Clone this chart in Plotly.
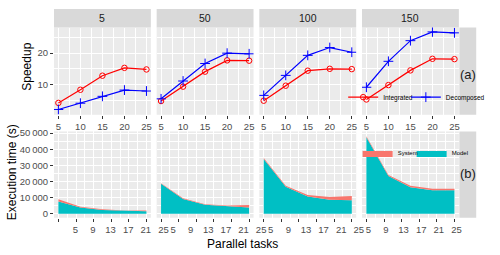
import plotly.graph_objects as go

# ---------------- data ----------------
panels = ["5", "50", "100", "150"]
tasks = [5, 10, 15, 20, 25]

integrated_5 = [4.1, 8.3, 12.8, 15.3, 14.8]
integrated_50 = [4.7, 9.3, 14.1, 17.7, 17.6]
integrated_100 = [4.8, 9.6, 14.4, 15.0, 14.9]
integrated_150 = [5.2, 9.8, 14.5, 18.2, 18.1]

decomposed_5 = [2.0, 4.0, 6.2, 8.2, 7.9]
decomposed_50 = [5.4, 11.1, 16.7, 20.0, 19.8]
decomposed_100 = [6.5, 12.9, 19.3, 21.8, 20.3]
decomposed_150 = [9.1, 17.4, 24.0, 26.8, 26.5]

model_5 = [7600, 4000, 2400, 1800, 1600]
model_50 = [18600, 9200, 5600, 4600, 4000]
model_100 = [34000, 16800, 10800, 8800, 8400]
model_150 = [47400, 23400, 16400, 14600, 14600]

system_5 = [1400, 400, 400, 200, 400]
system_50 = [400, 400, 400, 600, 1400]
system_100 = [600, 600, 800, 1600, 2600]
system_150 = [600, 600, 1000, 1000, 1000]

top_xticks = [5, 10, 15, 20, 25]
bottom_xticks = [5, 9, 13, 17, 21, 25]
speed_yticks = [10, 20]
time_yticks = [0, 10000, 20000, 30000, 40000, 50000]
time_yticklabels = ["0", "10\u2009000", "20\u2009000", "30\u2009000", "40\u2009000", "50\u2009000"]

integrated = [integrated_5, integrated_50, integrated_100, integrated_150]
decomposed = [decomposed_5, decomposed_50, decomposed_100, decomposed_150]
model = [model_5, model_50, model_100, model_150]
system = [system_5, system_50, system_100, system_150]

# ---------------- layout geometry ----------------
W, H = 500, 255
FONT = "Liberation Sans, Arial, sans-serif"
lefts = [56, 162.5, 269, 375.5]
pw = 100.5
top_dom = [1 - 113 / H, 1 - 24 / H]
bot_dom = [1 - 218 / H, 1 - 130 / H]
label_shift = [17, 12, 7, 2]

RED = "#FF0000"
BLUE = "#0000FF"
TEAL = "#00BFC4"
SALMON = "#F8766D"

fig = go.Figure()

for i in range(4):
    xt = "x" if i == 0 else f"x{i+1}"
    yt = "y" if i == 0 else f"y{i+1}"
    xb = f"x{i+5}"
    yb = f"y{i+5}"
    fig.add_trace(go.Scatter(
        x=tasks, y=integrated[i], xaxis=xt, yaxis=yt, mode="lines+markers",
        name="Integrated", legend="legend", showlegend=(i == 0),
        line=dict(color=RED, width=1.2),
        marker=dict(symbol="circle-open", size=5.5, color=RED, line=dict(width=1, color=RED)),
    ))
    fig.add_trace(go.Scatter(
        x=tasks, y=decomposed[i], xaxis=xt, yaxis=yt, mode="lines+markers",
        name="Decomposed", legend="legend3", showlegend=(i == 0),
        line=dict(color=BLUE, width=1.2),
        marker=dict(symbol="cross-thin", size=7, color=BLUE, line=dict(width=1, color=BLUE)),
    ))
    fig.add_trace(go.Scatter(
        x=tasks, y=model[i], xaxis=xb, yaxis=yb, mode="lines",
        name="Model", legend="legend4", showlegend=(i == 0),
        stackgroup=f"s{i}", line=dict(width=0, color=TEAL), fillcolor=TEAL,
    ))
    fig.add_trace(go.Scatter(
        x=tasks, y=system[i], xaxis=xb, yaxis=yb, mode="lines",
        name="System", legend="legend2", showlegend=(i == 0),
        stackgroup=f"s{i}", line=dict(width=0, color=SALMON), fillcolor=SALMON,
    ))

common = dict(
    showgrid=True, gridcolor="white", gridwidth=1.1, zeroline=False,
    ticks="outside", ticklen=3, tickcolor="#333333", tickwidth=1,
    tickfont=dict(family=FONT, size=9.5, color="#4D4D4D"), showline=False,
)

layout = dict(
    width=W, height=H, margin=dict(l=0, r=0, t=0, b=0),
    paper_bgcolor="white", plot_bgcolor="#EBEBEB",
    font=dict(family=FONT),
)

for i in range(4):
    xs = "" if i == 0 else str(i + 1)
    dom = [lefts[i] / W, (lefts[i] + pw) / W]
    layout[f"xaxis{xs}"] = dict(common, domain=dom, anchor="y" + xs, range=[4, 26],
                                tickvals=top_xticks,
                                minor=dict(tickvals=[7.5, 12.5, 17.5, 22.5], showgrid=True,
                                           gridcolor="white", gridwidth=0.5, ticks=""))
    layout[f"yaxis{xs}"] = dict(common, domain=top_dom, anchor="x" + xs, range=[0.3, 28.2],
                                tickvals=speed_yticks,
                                showticklabels=(i == 0), ticks="outside" if i == 0 else "",
                                minor=dict(tickvals=[5, 15, 25], showgrid=True,
                                           gridcolor="white", gridwidth=0.5, ticks=""))
    bs = str(i + 5)
    layout[f"xaxis{bs}"] = dict(common, domain=dom, anchor="y" + bs, range=[4, 26],
                                tickvals=bottom_xticks, ticklabelshift=label_shift[i],
                                minor=dict(tickvals=[7, 11, 15, 19, 23], showgrid=True,
                                           gridcolor="white", gridwidth=0.5, ticks=""))
    layout[f"yaxis{bs}"] = dict(common, domain=bot_dom, anchor="x" + bs, range=[-2400, 51000],
                                tickvals=time_yticks, ticktext=time_yticklabels,
                                showticklabels=(i == 0), ticks="outside" if i == 0 else "",
                                minor=dict(tickvals=[5000, 15000, 25000, 35000, 45000],
                                           showgrid=True, gridcolor="white", gridwidth=0.5, ticks=""))

shapes = []
annotations = []
for i in range(4):
    shapes.append(dict(type="rect", xref="paper", yref="paper",
                       x0=lefts[i] / W, x1=(lefts[i] + pw) / W,
                       y0=1 - 24 / H, y1=1 - 5 / H,
                       fillcolor="#D9D9D9", line=dict(width=0), layer="below"))
    annotations.append(dict(text=panels[i], xref="paper", yref="paper",
                            x=(lefts[i] + pw / 2) / W, y=1 - 14.5 / H,
                            showarrow=False, font=dict(family=FONT, size=10.5, color="#1A1A1A"),
                            xanchor="center", yanchor="middle"))
for (y0, y1, lab, yc) in [(24, 113, "(a)", 72), (130, 218, "(b)", 173)]:
    shapes.append(dict(type="rect", xref="paper", yref="paper",
                       x0=476.5 / W, x1=494 / W, y0=1 - y1 / H, y1=1 - y0 / H,
                       fillcolor="#D9D9D9", line=dict(width=0), layer="below"))
    annotations.append(dict(text=lab, xref="paper", yref="paper",
                            x=485.5 / W, y=1 - yc / H, showarrow=False,
                            font=dict(family=FONT, size=13, color="#1A1A1A"),
                            xanchor="center", yanchor="middle"))

annotations.append(dict(text="Speedup", xref="paper", yref="paper", x=28 / W, y=1 - 64 / H,
                        textangle=-90, showarrow=False, xanchor="center", yanchor="middle",
                        font=dict(family=FONT, size=12, color="black")))
annotations.append(dict(text="Execution time (s)", xref="paper", yref="paper", x=12 / W,
                        y=1 - 172 / H, textangle=-90, showarrow=False, xanchor="center",
                        yanchor="middle", font=dict(family=FONT, size=12, color="black")))
annotations.append(dict(text="Parallel tasks", xref="paper", yref="paper", x=252 / W,
                        y=1 - 245 / H, showarrow=False, xanchor="center", yanchor="middle",
                        font=dict(family=FONT, size=12, color="black")))

layout["shapes"] = shapes
layout["annotations"] = annotations

def leg(x, y, size):
    return dict(orientation="h", x=x / W, y=1 - y / H, xanchor="left", yanchor="middle",
                bgcolor="rgba(0,0,0,0)", itemwidth=30,
                font=dict(family=FONT, size=size, color="black"))

layout["legend"] = leg(356, 95, 6.5)    # Integrated
layout["legend3"] = leg(421, 95, 6.5)   # Decomposed
layout["legend2"] = leg(371, 152, 6)    # System
layout["legend4"] = leg(427, 152, 6)    # Model
layout["showlegend"] = True

fig.update_layout(**layout)
fig.write_html("out.html", config={"displayModeBar": False},
               post_script="document.body.style.margin='0';document.body.style.overflow='hidden';")
